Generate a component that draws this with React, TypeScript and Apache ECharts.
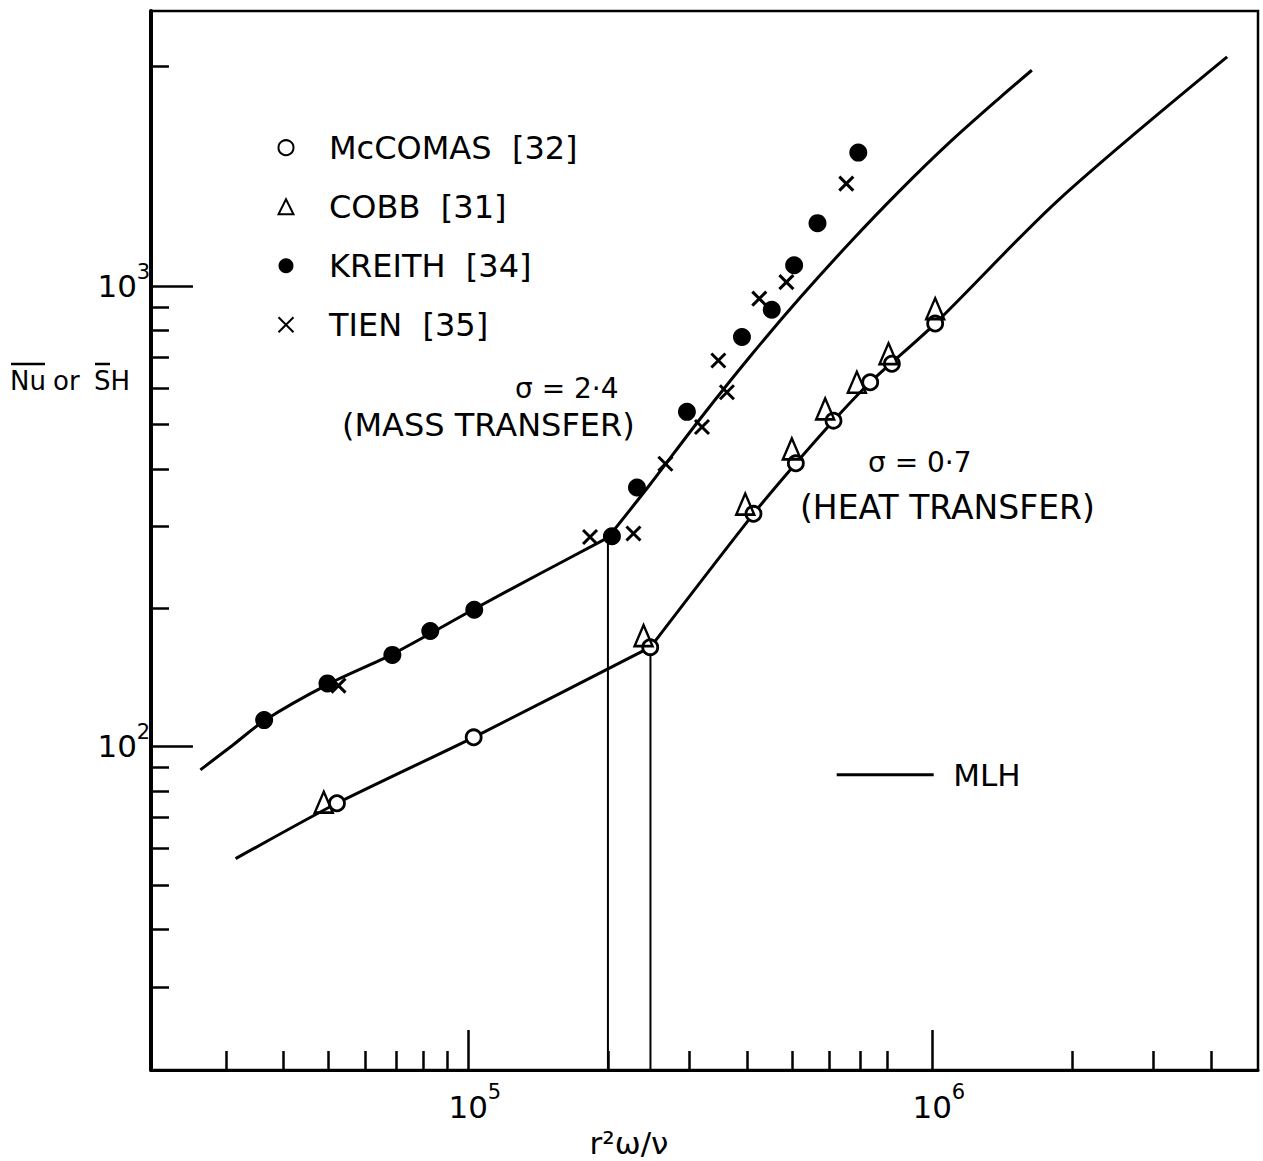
import React, { useEffect, useRef } from "react";
import * as echarts from "echarts";

// Axis ranges (log-log)
const xRange = [20700, 5.04e6];
const yRange = [19.8, 3960];

// Tick values
const xMinorTicks = [3e4, 4e4, 5e4, 6e4, 7e4, 8e4, 9e4, 2e5, 3e5, 4e5, 5e5, 6e5, 7e5, 8e5, 2e6, 3e6, 4e6];
const xMajorTicks = [1e5, 1e6];
const yMinorTicks = [30, 40, 50, 60, 70, 80, 90, 200, 300, 400, 500, 600, 700, 800, 900, 3000];
const yMajorTicks = [100, 1000];

// Series names
const nameMcComas = "McCOMAS  [32]";
const nameCobb = "COBB  [31]";
const nameKreith = "KREITH  [34]";
const nameTien = "TIEN  [35]";
const nameMLH = "MLH";

// Data points [r²ω/ν, Nu or Sh]
const mcComas = [
  [52100, 75.2], [102700, 104.6], [246700, 164.2], [411900, 320], [508300, 412],
  [612800, 510], [735200, 618], [818800, 678], [1015000, 829],
];
const cobb = [
  [48800, 75.6], [238700, 174], [395400, 336], [498300, 443], [588000, 541],
  [688100, 618], [805100, 713], [1015000, 893],
];
const kreith = [
  [36300, 114], [49700, 137], [68600, 158], [82800, 178], [103000, 198],
  [204000, 286], [231000, 365], [296000, 533], [389000, 775], [451000, 888],
  [504000, 1110], [566000, 1370], [693000, 1950],
];
const tien = [
  [52500, 135.5], [183000, 285], [227000, 290], [266000, 411], [319000, 494],
  [361000, 588], [346000, 689], [424000, 939], [485000, 1020], [653000, 1670],
];

// MLH theory curves
const massLaminar = [
  [26450, 88.9], [31000, 100.4], [36500, 114.1], [49700, 136.2], [68600, 158.6],
  [103000, 198.8], [142900, 237.4], [200000, 284],
];
const massTurbulent = [
  [200000, 284], [246700, 371], [316200, 515], [405400, 704], [519400, 944],
  [665900, 1245], [853000, 1614], [1093000, 2057], [1402000, 2572], [1640000, 2944],
];
const heatLaminar = [
  [31500, 57.0], [52100, 75.2], [102700, 104.6], [247000, 164.2],
];
const heatTurbulent = [
  [247000, 164.2], [411900, 320], [508300, 412], [612800, 510], [735200, 618],
  [1015000, 829], [1869000, 1536], [4324000, 3147],
];

// Transition drop lines
const massTransition = [[200000, 284], [200000, 19.8]];
const heatTransition = [[247000, 164.2], [247000, 19.8]];

export default function App() {
  const ref = useRef<HTMLDivElement>(null);

  useEffect(() => {
    if (!ref.current) return;
    const chart = echarts.init(ref.current, null, { renderer: "svg" });
    const black = "#000";
    const ff = "DejaVu Sans";

    const rich = {
      p: { width: 13, fontSize: 21, fontFamily: ff },
      b: { fontSize: 31, lineHeight: 50, fontFamily: ff, color: black },
      s: { fontSize: 21, lineHeight: 16, verticalAlign: "top", width: 13, fontFamily: ff, color: black },
    };

    const lineSeries = (data: number[][], smooth: number | boolean, name: string, width: number) => ({
      name,
      type: "line",
      data,
      symbol: "none",
      smooth,
      silent: true,
      z: 2,
      lineStyle: { color: black, width },
      itemStyle: { color: black },
    });

    const option: any = {
      animation: false,
      backgroundColor: "#fff",
      textStyle: { fontFamily: ff, color: black },
      grid: {
        left: 151, right: 5, top: 11, bottom: 91,
        show: true, borderColor: black, borderWidth: 2.5,
        outerBoundsMode: "none",
      },
      legend: [
        {
          data: [nameMcComas, nameCobb, nameKreith, nameTien],
          orient: "vertical",
          left: 277.5,
          top: 131.7,
          padding: 0,
          itemWidth: 15,
          itemHeight: 15,
          itemGap: 27,
          selectedMode: false,
          textStyle: { fontSize: 32, lineHeight: 30, fontFamily: ff, color: black, padding: [0, 0, 0, 30.5] },
        },
        {
          data: [{ name: nameMLH, icon: "rect" }],
          left: 836.7,
          top: 759.3,
          padding: 0,
          itemWidth: 97,
          itemHeight: 3,
          selectedMode: false,
          textStyle: { fontSize: 31, lineHeight: 30, fontFamily: ff, color: black, padding: [0, 0, 0, 14.6] },
        },
      ],
      xAxis: [
        {
          type: "log", position: "bottom", min: xRange[0], max: xRange[1],
          axisLine: { show: true, lineStyle: { color: black, width: 3 } },
          axisTick: { show: true, inside: true, length: 19, customValues: xMinorTicks, lineStyle: { color: black, width: 2.5 } },
          axisLabel: { show: false },
          splitLine: { show: false },
          minorTick: { show: false },
        },
        {
          type: "log", position: "bottom", min: xRange[0], max: xRange[1],
          axisLine: { show: false },
          axisTick: { show: true, inside: true, length: 40, customValues: xMajorTicks, lineStyle: { color: black, width: 2.5 } },
          axisLabel: {
            show: true, customValues: xMajorTicks, margin: 11.5, verticalAlign: "top", align: "center",
            formatter: (v: number) => `{p| }{b|10}{s|${Math.round(Math.log10(v))}}`,
            rich,
          },
          splitLine: { show: false },
        },
      ],
      yAxis: [
        {
          type: "log", position: "left", min: yRange[0], max: yRange[1],
          axisLine: { show: true, lineStyle: { color: black, width: 4 } },
          axisTick: { show: true, inside: true, length: 18, customValues: yMinorTicks, lineStyle: { color: black, width: 2.5 } },
          axisLabel: { show: false },
          splitLine: { show: false },
        },
        {
          type: "log", position: "left", min: yRange[0], max: yRange[1],
          axisLine: { show: false },
          axisTick: { show: true, inside: true, length: 42, customValues: yMajorTicks, lineStyle: { color: black, width: 2.5 } },
          axisLabel: {
            show: true, customValues: yMajorTicks, margin: 1, align: "right", verticalAlign: "middle",
            formatter: (v: number) => `{b|10}{s|${Math.round(Math.log10(v))}}`,
            rich,
          },
          splitLine: { show: false },
        },
      ],
      series: [
        lineSeries(massLaminar, 0.3, nameMLH, 3),
        lineSeries(massTurbulent, 0.3, nameMLH, 3),
        lineSeries(heatLaminar, 0.2, nameMLH, 3),
        lineSeries(heatTurbulent, 0.3, nameMLH, 3),
        lineSeries(massTransition, false, "transition σ=2.4", 2),
        lineSeries(heatTransition, false, "transition σ=0.7", 2),
        {
          name: nameMcComas, type: "scatter", data: mcComas, symbol: "circle", symbolSize: 15, z: 3,
          itemStyle: { color: "#fff", borderColor: black, borderWidth: 2.8, opacity: 1 },
        },
        {
          name: nameCobb, type: "scatter", data: cobb, symbol: "triangle", symbolSize: [18, 21], z: 4,
          itemStyle: { color: "rgba(255,255,255,0)", borderColor: black, borderWidth: 2.5, opacity: 1 },
        },
        {
          name: nameKreith, type: "scatter", data: kreith, symbol: "circle", symbolSize: 18, z: 3,
          itemStyle: { color: black, borderColor: black, borderWidth: 0, opacity: 1 },
        },
        {
          name: nameTien, type: "scatter", data: tien, symbol: "path://M0,0L10,10M10,0L0,10", symbolSize: 14, z: 4,
          itemStyle: { color: "rgba(255,255,255,0)", borderColor: black, borderWidth: 3, opacity: 1 },
        },
      ],
      graphic: [
        { type: "text", x: 515, y: 388, style: { text: "σ = 2·4", fontSize: 28, fontFamily: ff, fill: black, align: "left", verticalAlign: "middle" } },
        { type: "text", x: 342, y: 425, style: { text: "(MASS TRANSFER)", fontSize: 32, fontFamily: ff, fill: black, align: "left", verticalAlign: "middle" } },
        { type: "text", x: 868, y: 462, style: { text: "σ = 0·7", fontSize: 28, fontFamily: ff, fill: black, align: "left", verticalAlign: "middle" } },
        { type: "text", x: 800, y: 507, style: { text: "(HEAT TRANSFER)", fontSize: 33, fontFamily: ff, fill: black, align: "left", verticalAlign: "middle" } },
        { type: "text", x: 629, y: 1143, style: { text: "r²ω/ν", fontSize: 31, fontFamily: ff, fill: black, align: "center", verticalAlign: "middle" } },
        { type: "text", x: 10, y: 381, style: { text: "Nu", fontSize: 26, fontFamily: ff, fill: black, align: "left", verticalAlign: "middle" } },
        { type: "text", x: 53, y: 381, style: { text: "or", fontSize: 26, fontFamily: ff, fill: black, align: "left", verticalAlign: "middle" } },
        { type: "text", x: 94, y: 381, style: { text: "SH", fontSize: 26, fontFamily: ff, fill: black, align: "left", verticalAlign: "middle" } },
        { type: "line", shape: { x1: 11, y1: 364, x2: 45, y2: 364 }, style: { stroke: black, lineWidth: 2.5 } },
        { type: "line", shape: { x1: 95, y1: 364, x2: 110, y2: 364 }, style: { stroke: black, lineWidth: 2.5 } },
      ],
    };

    chart.setOption(option);
    return () => chart.dispose();
  }, []);

  return (
    <div
      ref={ref}
      style={{ position: "absolute", left: 0, top: 0, width: 1263, height: 1161, background: "#fff" }}
    />
  );
}
